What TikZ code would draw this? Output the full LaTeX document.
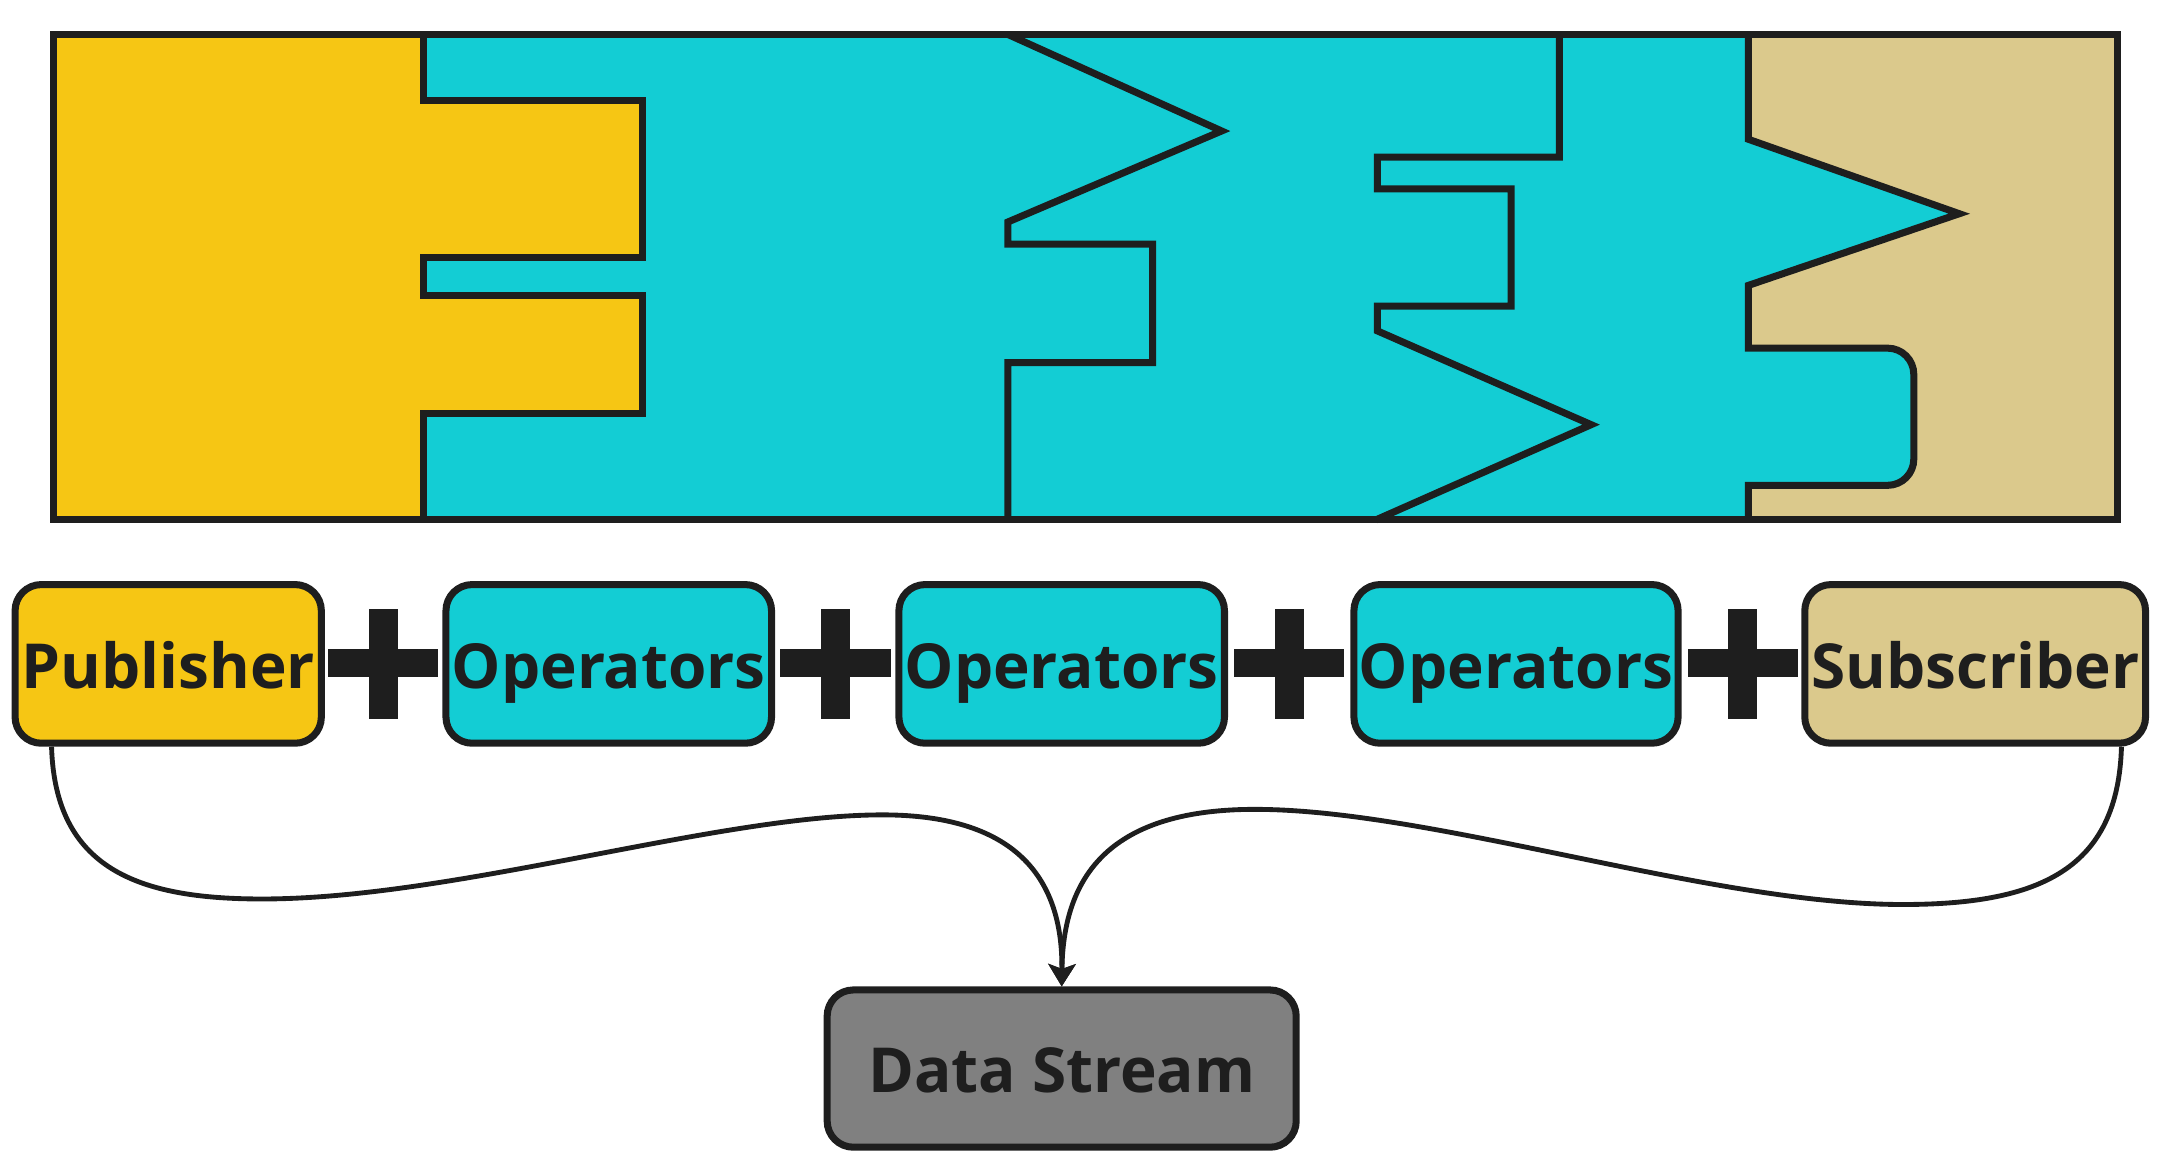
\documentclass[tikz,border=0pt]{standalone}
\usepackage{fontspec}
\setmainfont{Open Sans}
\usetikzlibrary{arrows.meta,calc}
\definecolor{pubyellow}{HTML}{F6C614}
\definecolor{opcyan}{HTML}{13CDD4}
\definecolor{subtan}{HTML}{DBC98C}
\definecolor{dsgray}{HTML}{808080}
\definecolor{ink}{HTML}{1E1E1E}
\tikzset{
  puzzle/.style={draw=ink, line width=1.45pt},
  tag/.style={draw=ink, line width=1.45pt, rounded corners=0.19cm,
    minimum height=1.15cm, text height=0.45cm, text depth=0.1cm, inner sep=0pt,
    font=\fontsize{12.8}{15}\selectfont\bfseries, text=ink},
  link/.style={draw=ink, line width=1.0pt, -{Stealth[length=4.6pt,width=5.6pt,inset=1pt]}},
}
\begin{document}
\begin{tikzpicture}[x=0.01cm, y=-0.01cm]
\useasboundingbox (0,0) rectangle (1568,852);

% puzzle fills
\fill[opcyan] (39,25) rectangle (1536,377);
\fill[pubyellow] (39,25) -- (307,25) -- (307,73) -- (466,73) -- (466,187) -- (307,187)
  -- (307,214) -- (466,214) -- (466,300) -- (307,300) -- (307,377) -- (39,377) -- cycle;
\fill[subtan] (1268,25) -- (1536,25) -- (1536,377) -- (1268,377) -- (1268,352) -- (1369,352)
  .. controls (1379.5,352) and (1388,343.5) .. (1388,333) -- (1388,271.5)
  .. controls (1388,261) and (1379.5,252.5) .. (1369,252.5)
  -- (1268,252.5) -- (1268,207) -- (1421,155) -- (1268,101) -- cycle;

% puzzle boundaries
\draw[puzzle] (307,25) -- (307,73) -- (466,73) -- (466,187) -- (307,187)
  -- (307,214) -- (466,214) -- (466,300) -- (307,300) -- (307,377);
\draw[puzzle] (731,25) -- (886,95) -- (731,161) -- (731,177) -- (836,177) -- (836,263)
  -- (731,263) -- (731,377);
\draw[puzzle] (1131,25) -- (1131,114) -- (999,114) -- (999,137) -- (1096,137) -- (1096,222)
  -- (999,222) -- (999,240) -- (1154,308) -- (998,377);
\draw[puzzle] (1268,25) -- (1268,101) -- (1421,155) -- (1268,207) -- (1268,252.5) -- (1369,252.5)
  .. controls (1379.5,252.5) and (1388,261) .. (1388,271.5) -- (1388,333)
  .. controls (1388,343.5) and (1379.5,352) .. (1369,352)
  -- (1268,352) -- (1268,377);
\draw[puzzle] (39,25) rectangle (1536,377);

% labelled boxes
\node[tag, fill=pubyellow, minimum width=2.22cm] (pub) at (122,481.5) {Publisher};
\node[tag, fill=opcyan, minimum width=2.36cm] (op1) at (441.5,481.5) {Operators};
\node[tag, fill=opcyan, minimum width=2.36cm] (op2) at (770,481.5) {Operators};
\node[tag, fill=opcyan, minimum width=2.35cm] (op3) at (1099.5,481.5) {Operators};
\node[tag, fill=subtan, minimum width=2.47cm] (sub) at (1432.5,481.5) {Subscriber};
\node[tag, fill=dsgray, minimum width=3.4cm, minimum height=1.14cm] (ds) at (770,775) {Data Stream};

% plus signs
\foreach \cx in {278,606,935,1264}{
  \fill[ink] (\cx-40,471) rectangle (\cx+40,491);
  \fill[ink] (\cx-10.5,441.5) rectangle (\cx+10.5,521.5);
}

% connectors
\draw[link] ($(pub.south west)+(29,0)$) .. controls (40,630) and (100,652) .. (190,652)
  .. controls (330,652) and (520,591) .. (640,591)
  .. controls (740,591) and (771,640) .. (ds.north);
\draw[link] ($(sub.south east)+(-20,0)$) .. controls (1536,630) and (1480,656) .. (1380,656)
  .. controls (1240,656) and (1040,587) .. (910,587)
  .. controls (800,587) and (771,640) .. (ds.north);
\end{tikzpicture}
\end{document}
